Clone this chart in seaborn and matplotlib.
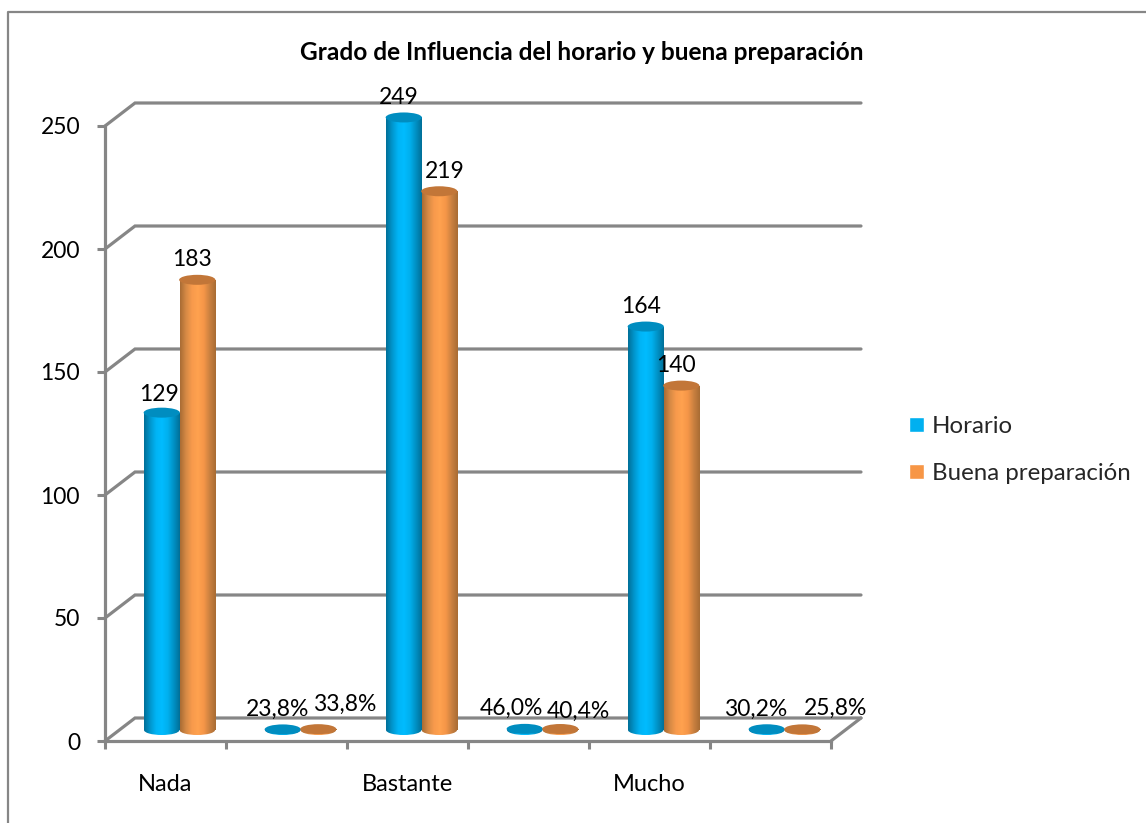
import numpy as np
import pandas as pd
import matplotlib
matplotlib.use("Agg")
import matplotlib.pyplot as plt
from matplotlib.colors import LinearSegmentedColormap
from matplotlib.lines import Line2D
from matplotlib.patches import Ellipse, Rectangle
import seaborn as sns

# ---- data -----------------------------------------------------------------
slots = ["Nada", " ", "Bastante", "  ", "Mucho", "   "]
series_names = ["Horario", "Buena preparación"]
horario = [129, 0.238, 249, 0.460, 164, 0.302]
preparacion = [183, 0.338, 219, 0.404, 140, 0.258]
horario_labels = ["129", "23,8%", "249", "46,0%", "164", "30,2%"]
preparacion_labels = ["183", "33,8%", "219", "40,4%", "140", "25,8%"]
title = "Grado de Influencia del horario y buena preparación"
yticks = [0, 50, 100, 150, 200, 250]

# ---- styling --------------------------------------------------------------
W, H = 1146, 823
GRAY = "#868686"
FONT = ["Lato", "DejaVu Sans"]
palette = {"Horario": "#00B0F0", "Buena preparación": "#F79646"}
shades = {
    "Horario": ["#006F98", "#0095CC", "#00B4F5", "#00BCFF", "#00B0EE", "#0090C4", "#006F98"],
    "Buena preparación": ["#A86C34", "#D68A45", "#F89A4C", "#FFA24F", "#F59648", "#C98040", "#A86C34"],
}
caps = {"Horario": "#008DC0", "Buena preparación": "#C27638"}
# label offsets from the top centre of each bar, in pixels
h_dx, h_dy = [-3, -5, -5, -13, -5, -11], [-18, -20, -20, -21, -20, -20]
p_dx, p_dy = [-5, 26, 5, 18, -5, 33], [-20, -25, -20, -18, -20, -21]

sns.set_theme(style="white")
plt.rcParams["font.family"] = FONT

fig = plt.figure(figsize=(W / 100, H / 100), dpi=100, facecolor="white")


def px_axes(left, right, top, bottom):
    return fig.add_axes([left / W, 1 - bottom / H, (right - left) / W, (bottom - top) / H])


# ---- back axes: walls, grid, ticks ----------------------------------------
back = px_axes(105, 831, 126, 741)
back.set_xlim(-0.5, 5.5)
back.set_ylim(0, 250)
back.set_facecolor("none")
ox = 30 / (726 / 6)
oy = 23 / (615 / 250)
for v in yticks:
    back.plot([-0.5, -0.5 + ox, 5.5 + ox], [v, v + oy, v + oy], color=GRAY, lw=2.3,
              clip_on=False, solid_joinstyle="miter", zorder=1)
back.plot([5.5, 5.5 + ox], [0, oy], color=GRAY, lw=2.3, clip_on=False, zorder=1)
for side in ("top", "right"):
    back.spines[side].set_visible(False)
for side in ("left", "bottom"):
    back.spines[side].set_color(GRAY)
    back.spines[side].set_linewidth(2.3)
back.set_yticks(yticks)
back.set_yticklabels([str(v) for v in yticks], fontsize=16.5, color="black")
back.tick_params(axis="y", length=6, width=2.2, color=GRAY, pad=12, left=True)
back.set_xticks(np.arange(-0.5, 6, 1))
back.set_xticklabels([])
back.tick_params(axis="x", which="major", length=6, width=2.2, color=GRAY, bottom=True)
back.set_xticks(np.arange(6), labels=[s.strip() for s in slots], minor=True)
back.tick_params(axis="x", which="minor", length=0, pad=24, labelsize=17, labelcolor="black")

# ---- bars -----------------------------------------------------------------
ax = px_axes(119, 845, 115, 730)
ax.set_facecolor("none")
df = pd.DataFrame({
    "Grado": slots * 2,
    "Serie": [series_names[0]] * 6 + [series_names[1]] * 6,
    "Valor": horario + preparacion,
})
sns.barplot(data=df, x="Grado", y="Valor", hue="Serie", order=slots, hue_order=series_names,
            palette=palette, width=0.587, saturation=1, gap=0, ax=ax, zorder=2)
ax.set_xlim(-0.5, 5.5)
ax.set_ylim(0, 250)

cap_h = 10 * 250 / 615
all_labels = [horario_labels, preparacion_labels]
all_dx, all_dy = [h_dx, p_dx], [h_dy, p_dy]
for i, (container, name) in enumerate(zip(ax.containers, series_names)):
    cmap = LinearSegmentedColormap.from_list(name, shades[name])
    grad = np.linspace(0, 1, 128).reshape(1, -1)
    for j, bar in enumerate(container):
        x0, w, v = bar.get_x(), bar.get_width(), bar.get_height()
        xc = x0 + w / 2
        bar.set_visible(False)
        extent = (x0, x0 + w, -cap_h, v)
        body = ax.imshow(grad, cmap=cmap, aspect="auto", extent=extent, zorder=3 + i)
        body.set_clip_path(Rectangle((x0, 0), w, v, transform=ax.transData))
        foot = ax.imshow(grad, cmap=cmap, aspect="auto", extent=extent, zorder=3 + i)
        foot.set_clip_box(fig.bbox)
        foot.set_clip_path(Ellipse((xc, 0), w, cap_h, transform=ax.transData))
        ax.add_patch(Ellipse((xc, v), w * 1.02, cap_h, facecolor=caps[name], edgecolor="none",
                             zorder=3.5 + i, clip_on=False))
        ax.annotate(all_labels[i][j], xy=(xc, v), xytext=(all_dx[i][j] * 0.72, -all_dy[i][j] * 0.72),
                    textcoords="offset points", ha="center", va="center", fontsize=16.5,
                    color="black", zorder=10, annotation_clip=False)
ax.set_xlim(-0.5, 5.5)
ax.set_ylim(0, 250)
ax.axis("off")

# ---- legend ---------------------------------------------------------------
handles, labels = ax.get_legend_handles_labels()
ax.get_legend().remove()
fig.legend(handles, labels, loc="upper left", bbox_to_anchor=(909 / W, 1 - 416 / H),
           bbox_transform=fig.transFigure, frameon=False, fontsize=17.3, borderpad=0, borderaxespad=0,
           handlelength=0.64, handleheight=0.64, handletextpad=0.3, labelspacing=1.08)

# ---- title and outer frame ------------------------------------------------
fig.text(582 / W, 1 - 52 / H, title, ha="center", va="center", fontsize=17.6, fontweight="bold",
         color="black")
fig.add_artist(Line2D([7.5 / W, 7.5 / W, 1], [0, 1 - 12 / H, 1 - 12 / H], color=GRAY, lw=1.6,
                      transform=fig.transFigure))

fig.savefig("out.png", dpi=100, facecolor="white")
